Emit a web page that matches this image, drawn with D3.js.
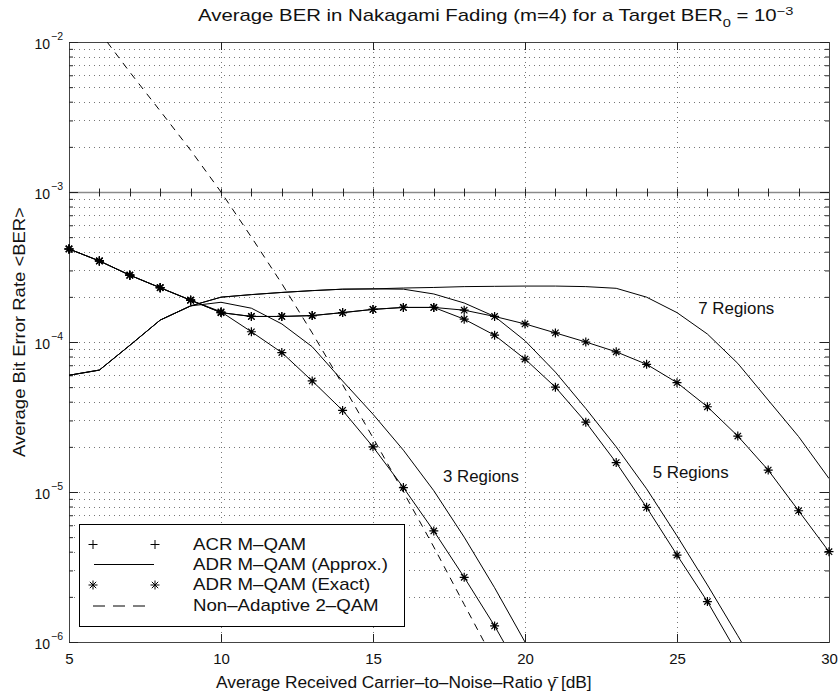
<!DOCTYPE html>
<html>
<head>
<meta charset="utf-8">
<script src="https://cdn.jsdelivr.net/npm/d3@7"></script>
<style>
  body { margin: 0; background: #fff; }
  svg { display: block; font-family: "Liberation Sans", Arial, sans-serif; }
</style>
</head>
<body>
<div id="chart"></div>
<script>
// average SNR in dB, one point per dB
const snrDb = [5, 6, 7, 8, 9, 10, 11, 12, 13, 14, 15, 16, 17, 18, 19, 20, 21, 22, 23, 24, 25, 26, 27, 28, 29, 30];

// ADR M-QAM, exact (stars)
const ber3Exact = [4.17e-4, 3.47e-4, 2.79e-4, 2.30e-4, 1.90e-4, 1.59e-4, 1.17e-4, 8.5e-5, 5.5e-5, 3.5e-5, 2.0e-5, 1.07e-5, 5.5e-6, 2.7e-6, 1.28e-6, 5.6e-7,
  null, null, null, null, null, null, null, null, null, null];
const ber5Exact = [4.17e-4, 3.47e-4, 2.79e-4, 2.30e-4, 1.90e-4, 1.57e-4, 1.48e-4, 1.48e-4, 1.50e-4, 1.57e-4, 1.65e-4, 1.70e-4, 1.70e-4, 1.42e-4, 1.11e-4, 7.7e-5,
  5.0e-5, 2.92e-5, 1.57e-5, 7.9e-6, 3.8e-6, 1.86e-6, 8.3e-7, null, null, null];
const ber7Exact = [4.17e-4, 3.47e-4, 2.79e-4, 2.30e-4, 1.90e-4, 1.57e-4, 1.48e-4, 1.48e-4, 1.50e-4, 1.57e-4, 1.65e-4, 1.70e-4, 1.70e-4, 1.63e-4, 1.48e-4, 1.32e-4,
  1.15e-4, 1.0e-4, 8.6e-5, 7.1e-5, 5.36e-5, 3.7e-5, 2.36e-5, 1.4e-5, 7.5e-6, 4.0e-6];

// ADR M-QAM, approximation (solid lines)
const ber3Approx = [6.0e-5, 6.5e-5, 9.5e-5, 1.40e-4, 1.74e-4, 1.84e-4, 1.68e-4, 1.32e-4, 9.3e-5, 5.5e-5, 3.3e-5, 1.9e-5, 1.02e-5, 5.0e-6, 2.3e-6, 1.0e-6,
  4.5e-7, null, null, null, null, null, null, null, null, null];
const ber5Approx = [6.0e-5, 6.5e-5, 9.5e-5, 1.40e-4, 1.74e-4, 1.99e-4, 2.07e-4, 2.14e-4, 2.20e-4, 2.25e-4, 2.26e-4, 2.25e-4, 2.09e-4, 1.82e-4, 1.48e-4, 1.02e-4,
  6.3e-5, 3.6e-5, 2.0e-5, 1.05e-5, 5.1e-6, 2.4e-6, 1.1e-6, 5.0e-7, null, null];
const ber7Approx = [6.0e-5, 6.5e-5, 9.5e-5, 1.40e-4, 1.74e-4, 1.99e-4, 2.07e-4, 2.14e-4, 2.20e-4, 2.25e-4, 2.26e-4, 2.29e-4, 2.31e-4, 2.34e-4, 2.35e-4, 2.36e-4,
  2.36e-4, 2.34e-4, 2.28e-4, 1.99e-4, 1.57e-4, 1.13e-4, 7.2e-5, 4.1e-5, 2.34e-5, 1.23e-5];

// ACR M-QAM (plus markers)
const acrBer = [4.17e-4, 3.47e-4, 2.79e-4, 2.30e-4, 1.90e-4, null, null, null, null, null, null, null, null, null, null, null,
  null, null, null, null, null, null, null, null, null, null];

// non-adaptive 2-QAM (dashed)
const nonAdaptiveBer = [null, 1.17e-2, 6.3e-3, 3.47e-3, 1.9e-3, 1.0e-3, 5.0e-4, 2.45e-4, 1.15e-4, 5.2e-5, 2.3e-5, 1.0e-5, 4.3e-6, 1.78e-6, 7.4e-7, null,
  null, null, null, null, null, null, null, null, null, null];

const xTicks = [5, 10, 15, 20, 25, 30];
const yDecades = [1e-6, 1e-5, 1e-4, 1e-3, 1e-2];
const regionLabels = [
  { text: "3 Regions", snr: 17.3, ber: 1.26e-5 },
  { text: "5 Regions", snr: 24.2, ber: 1.35e-5 },
  { text: "7 Regions", snr: 25.7, ber: 1.66e-4 }
];
const legendItems = ["ACR M\u2013QAM", "ADR M\u2013QAM (Approx.)", "ADR M\u2013QAM (Exact)", "Non\u2013Adaptive 2\u2013QAM"];

const WIDTH = 840;
const HEIGHT = 700;
const PLOT = { left: 69, right: 829, top: 42, bottom: 642 };

const svg = d3.select("#chart").append("svg")
  .attr("width", WIDTH)
  .attr("height", HEIGHT);

const x = d3.scaleLinear().domain([5, 30]).range([PLOT.left, PLOT.right]);
const y = d3.scaleLog().domain([1e-6, 1e-2]).range([PLOT.bottom, PLOT.top]);

// the original lettering is a bit wider than Liberation Sans, stretch it in x
function stretchTo(g, width) {
  const w = g.node().getBBox().width;
  g.attr("transform", g.attr("transform") + ` scale(${width / w},1)`);
  return width / w;
}

svg.append("defs").append("clipPath").attr("id", "plot-clip")
  .append("rect")
  .attr("x", PLOT.left).attr("y", PLOT.top)
  .attr("width", PLOT.right - PLOT.left).attr("height", PLOT.bottom - PLOT.top);

// grid: minor + major log lines, major x lines
const minorY = [];
yDecades.slice(0, -1).forEach(d => { for (let k = 1; k < 10; k++) minorY.push(d * k); });
minorY.push(1e-2);

const grid = svg.append("g").attr("class", "grid")
  .attr("stroke", "#666")
  .attr("stroke-width", 0.9)
  .attr("stroke-dasharray", "1,4");

grid.selectAll("line.gy").data(minorY.filter(v => v !== 1e-3)).join("line")
  .attr("class", "gy")
  .attr("x1", PLOT.left).attr("x2", PLOT.right)
  .attr("y1", d => Math.round(y(d)) + 0.5).attr("y2", d => Math.round(y(d)) + 0.5);

grid.selectAll("line.gx").data(xTicks.slice(1, -1)).join("line")
  .attr("class", "gx")
  .attr("y1", PLOT.top).attr("y2", PLOT.bottom)
  .attr("x1", d => Math.round(x(d)) + 0.5).attr("x2", d => Math.round(x(d)) + 0.5);

// the solid line at 1e-3 with integer ticks
const midY = Math.round(y(1e-3)) + 0.5;
svg.append("line")
  .attr("x1", PLOT.left).attr("x2", PLOT.right)
  .attr("y1", midY).attr("y2", midY)
  .attr("stroke", "#8a8a8a").attr("stroke-width", 1.4);
svg.append("g").selectAll("line").data(snrDb.slice(1, -1)).join("line")
  .attr("x1", d => Math.round(x(d)) + 0.5).attr("x2", d => Math.round(x(d)) + 0.5)
  .attr("y1", midY - 4).attr("y2", midY + 4)
  .attr("stroke", "#222").attr("stroke-width", 1);

// axes: ticks on all four sides, pointing inward
const axes = svg.append("g").attr("class", "axes");

axes.append("g")
  .attr("transform", `translate(0,${PLOT.bottom})`)
  .call(d3.axisBottom(x).tickValues(xTicks).tickSize(-8).tickPadding(11).tickFormat(d3.format("d")));
axes.append("g")
  .attr("transform", `translate(0,${PLOT.top})`)
  .call(d3.axisTop(x).tickValues(xTicks).tickSize(-8).tickFormat(""));

axes.append("g")
  .attr("transform", `translate(${PLOT.left},0)`)
  .call(d3.axisLeft(y).tickValues(minorY).tickSize(-4).tickFormat(""))
  .call(g => g.selectAll(".tick line").filter(d => yDecades.includes(d)).attr("x2", 9));
axes.append("g")
  .attr("transform", `translate(${PLOT.right},0)`)
  .call(d3.axisRight(y).tickValues(minorY).tickSize(-4).tickFormat(""))
  .call(g => g.selectAll(".tick line").filter(d => yDecades.includes(d)).attr("x2", -9));

axes.selectAll(".domain").attr("stroke", "#444");
axes.selectAll(".tick line").attr("stroke", "#222");
axes.selectAll(".tick text").attr("font-size", 15).attr("fill", "#111")
  .attr("font-family", "Liberation Sans, Arial, sans-serif");

// y decade labels as 10^k
const yLabels = svg.append("g").attr("font-size", 14).attr("fill", "#111");
yDecades.forEach(d => {
  yLabels.append("text")
    .attr("x", 50).attr("y", Math.round(y(d)) + 7)
    .attr("text-anchor", "end")
    .text("10");
  yLabels.append("text")
    .attr("x", 51).attr("y", Math.round(y(d)) - 2)
    .attr("font-size", 10.5)
    .text("\u2212" + Math.round(-Math.log10(d)));
});

// data
const lines = svg.append("g").attr("clip-path", "url(#plot-clip)")
  .attr("fill", "none").attr("stroke", "#000").attr("stroke-width", 1);

const lineGen = d3.line()
  .defined(d => d[1] != null)
  .x(d => x(d[0]))
  .y(d => y(d[1]));

const pairs = arr => snrDb.map((s, i) => [s, arr[i]]);

[ber3Approx, ber5Approx, ber7Approx, ber3Exact, ber5Exact, ber7Exact].forEach(arr => {
  lines.append("path").attr("d", lineGen(pairs(arr)));
});
lines.append("path")
  .attr("d", lineGen(pairs(nonAdaptiveBer)))
  .attr("stroke-dasharray", "7,6");

const inRange = d => d[1] != null && d[1] >= 1e-6 && d[1] <= 1e-2;
const STAR = "M-4.5,0H4.5M0,-4.5V4.5M-3.2,-3.2L3.2,3.2M-3.2,3.2L3.2,-3.2";
const PLUS = "M-4.5,0H4.5M0,-4.5V4.5";

const markers = svg.append("g").attr("stroke", "#000").attr("stroke-width", 1.2).attr("fill", "none");
[ber3Exact, ber5Exact, ber7Exact].forEach(arr => {
  markers.append("g").selectAll("path").data(pairs(arr).filter(inRange)).join("path")
    .attr("transform", d => `translate(${x(d[0])},${y(d[1])})`)
    .attr("d", STAR);
});
markers.append("g").selectAll("path").data(pairs(acrBer).filter(inRange)).join("path")
  .attr("transform", d => `translate(${x(d[0])},${y(d[1])})`)
  .attr("d", PLUS);

// region labels
const regionG = svg.append("g").attr("font-size", 16).attr("fill", "#111")
  .selectAll("g").data(regionLabels).join("g")
  .attr("transform", d => `translate(${x(d.snr)},${y(d.ber) + 5.5})`);
regionG.append("text").text(d => d.text);
regionG.each(function () { stretchTo(d3.select(this), 76); });

// legend
const legend = svg.append("g").attr("transform", "translate(79,524)");
legend.append("rect")
  .attr("x", 0.5).attr("y", 0.5).attr("width", 325).attr("height", 102)
  .attr("fill", "#fff").attr("stroke", "#000").attr("stroke-width", 1);

const rowY = [20.5, 40.5, 61, 82];
const sym = legend.append("g").attr("stroke", "#000").attr("fill", "none").attr("stroke-width", 1);
sym.append("path").attr("transform", `translate(14,${rowY[0]})`).attr("d", PLUS);
sym.append("path").attr("transform", `translate(76,${rowY[0]})`).attr("d", PLUS);
sym.append("line").attr("x1", 15).attr("x2", 75).attr("y1", rowY[1]).attr("y2", rowY[1]);
sym.append("path").attr("transform", `translate(14,${rowY[2]})`).attr("d", STAR);
sym.append("path").attr("transform", `translate(76,${rowY[2]})`).attr("d", STAR);
sym.append("line").attr("x1", 14).attr("x2", 66).attr("y1", rowY[3]).attr("y2", rowY[3])
  .attr("stroke-dasharray", "12,8");

const legendText = legend.append("g").attr("font-size", 16).attr("fill", "#111")
  .selectAll("g").data(legendItems).join("g")
  .attr("transform", (d, i) => `translate(114,${rowY[i] + 5})`);
legendText.append("text").text(d => d);
// the widest entry sets the stretch for all four
const legendScale = 195 / legendText.filter((d, i) => i === 1).node().getBBox().width;
legendText.attr("transform", function () {
  return d3.select(this).attr("transform") + ` scale(${legendScale},1)`;
});

// title and axis labels
const titleG = svg.append("g").attr("transform", "translate(198,21)");
const title = titleG.append("text")
  .attr("font-size", 16).attr("fill", "#111");
title.append("tspan").text("Average BER in Nakagami Fading (m=4) for a Target BER");
title.append("tspan").attr("font-size", 11.5).attr("dy", 6).text("0");
title.append("tspan").attr("dy", -6).text(" = 10");
title.append("tspan").attr("font-size", 11.5).attr("dy", -6).text("\u22123");
stretchTo(titleG, 596);

const xLabelG = svg.append("g").attr("transform", "translate(216,688)");
xLabelG.append("text")
  .attr("font-size", 16).attr("fill", "#111")
  .text("Average Received Carrier\u2013to\u2013Noise\u2013Ratio \u03b3\u0304 [dB]");
stretchTo(xLabelG, 376);

const yLabelG = svg.append("g").attr("transform", "translate(25,457) rotate(-90)");
yLabelG.append("text")
  .attr("font-size", 16).attr("fill", "#111")
  .text("Average Bit Error Rate <BER>");
stretchTo(yLabelG, 250);
</script>
</body>
</html>
